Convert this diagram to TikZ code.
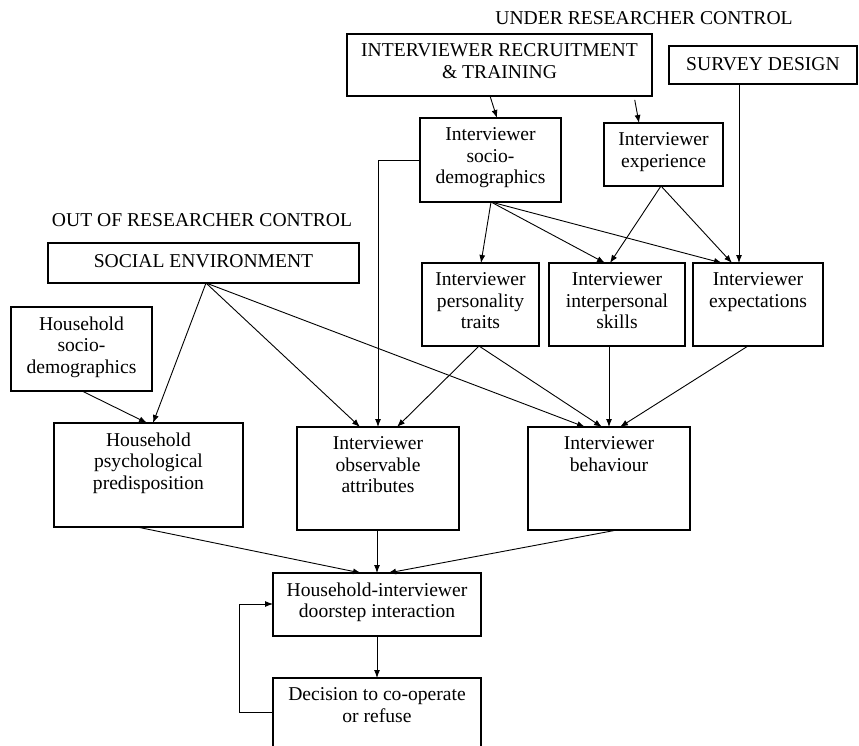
\documentclass[tikz,border=0pt]{standalone}
\usepackage{fontspec}
\setmainfont{Liberation Serif}
\usetikzlibrary{arrows.meta}
\newcommand\mkbox[6]{%
  \node[box, minimum width={#4-#2}, minimum height={#5-#3}] (#1) at (#2,#3) {};
  \node[btxt] (#1-t) at ([yshift=-9.5pt]#1.north) {#6};}
\begin{document}
\begin{tikzpicture}[x=1pt,y=-1pt,
  box/.style={draw, line width=1.1pt, inner sep=0pt, outer sep=0pt, anchor=north west},
  txt/.style={inner sep=0pt, align=center, anchor=base, font=\fontsize{19.6}{21.5}\selectfont},
  btxt/.style={txt, anchor=north, execute at begin node={\rule{0pt}{15pt}}},
  arr/.style={line width=0.9pt, -{Latex[length=8pt,width=6pt]}},
  ]
\useasboundingbox (0,0) rectangle (859,746);
\clip (0,0) rectangle (859,746);

\node[txt] (under) at (644,25) {UNDER RESEARCHER CONTROL};
\node[txt] (out) at (202,226) {OUT OF RESEARCHER CONTROL};

\mkbox{recruit}{347}{34}{652}{96}{INTERVIEWER RECRUITMENT\\\& TRAINING}
\mkbox{survey}{669}{46}{857}{84}{SURVEY DESIGN}
\mkbox{socio}{420}{118}{561}{202}{Interviewer\\socio-\\demographics}
\mkbox{exper}{604}{123}{723}{186}{Interviewer\\experience}
\mkbox{social}{48}{243}{359}{283}{SOCIAL ENVIRONMENT}
\mkbox{person}{422}{263}{539}{346}{Interviewer\\personality\\traits}
\mkbox{interp}{549}{263}{685}{346}{Interviewer\\interpersonal\\skills}
\mkbox{expect}{693}{263}{823}{346}{Interviewer\\expectations}
\mkbox{hsocio}{11}{307}{152}{391}{Household\\socio-\\demographics}
\mkbox{psych}{54}{423}{243}{527}{Household\\psychological\\predisposition}
\mkbox{observ}{297}{427}{459}{530}{Interviewer\\observable\\attributes}
\mkbox{behav}{528}{427}{690}{530}{Interviewer\\behaviour}
\mkbox{door}{273}{573}{481}{636}{Household-interviewer\\doorstep interaction}
\mkbox{decision}{273}{678}{481}{775}{Decision to co-operate\\or refuse}

% connectors
\draw[arr] ([xshift=143pt]recruit.south west) -- ([xshift=77pt]socio.north west);
\draw[arr, shorten <=4pt] ([xshift=287pt]recruit.south west) -- ([xshift=35pt]exper.north west);
\draw[arr] ([xshift=71pt]socio.south west) -- ([xshift=59pt]person.north west);
\draw[arr] ([xshift=71pt]socio.south west) -- ([xshift=56pt]interp.north west);
\draw[arr] ([xshift=71pt]socio.south west) -- ([xshift=29pt]expect.north west);
\draw[arr] (socio.west) -| ([xshift=81pt]observ.north west);
\draw[arr] ([xshift=57pt]exper.south west) -- ([xshift=61pt]interp.north west);
\draw[arr] ([xshift=57pt]exper.south west) -- ([xshift=39pt]expect.north west);
\draw[arr] ([xshift=70pt]survey.south west) -- ([xshift=46pt]expect.north west);
\draw[arr] ([xshift=158pt]social.south west) -- ([xshift=99pt]psych.north west);
\draw[arr] ([xshift=158pt]social.south west) -- ([xshift=63pt]observ.north west);
\draw[arr] ([xshift=158pt]social.south west) -- ([xshift=57pt]behav.north west);
\draw[arr] ([xshift=71pt]hsocio.south west) -- ([xshift=93pt]psych.north west);
\draw[arr] ([xshift=57pt]person.south west) -- ([xshift=100pt]observ.north west);
\draw[arr] ([xshift=57pt]person.south west) -- ([xshift=74pt]behav.north west);
\draw[arr] ([xshift=60pt]interp.south west) -- ([xshift=81pt]behav.north west);
\draw[arr] ([xshift=55pt]expect.south west) -- ([xshift=92pt]behav.north west);
\draw[arr] ([xshift=83pt]psych.south west) -- ([xshift=88pt]door.north west);
\draw[arr] ([xshift=80pt]observ.south west) -- ([xshift=104pt]door.north west);
\draw[arr] ([xshift=89pt]behav.south west) -- ([xshift=115pt]door.north west);
\draw[arr] ([xshift=104pt]door.south west) -- ([xshift=104pt]decision.north west);
\draw[arr] ([yshift=-34pt]decision.north west) -- ++(-34,0) |- ([yshift=-31pt]door.north west);
\end{tikzpicture}
\end{document}
